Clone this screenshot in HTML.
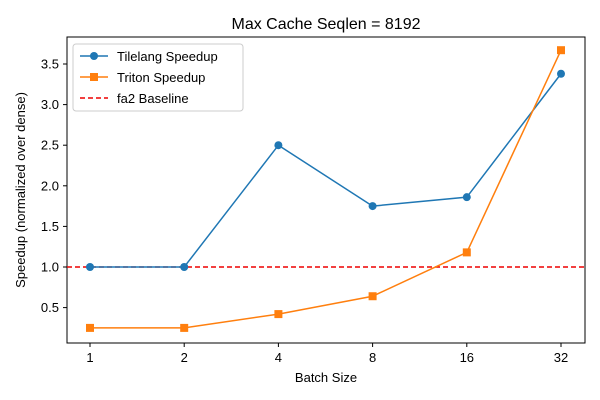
<!DOCTYPE html>
<html><head><meta charset="utf-8"><style>
body{margin:0;background:#fff;}
svg{display:block;font-family:"Liberation Sans","DejaVu Sans",sans-serif;}
</style></head><body>
<svg id="chart" width="600" height="400" viewBox="0 0 600 400" xmlns="http://www.w3.org/2000/svg">
<rect width="600" height="400" fill="#fff"/>
<text x="326" y="29" font-size="16" text-anchor="middle" fill="#000">Max Cache Seqlen = 8192</text>
<g id="grid"></g>
<rect x="67" y="37" width="518" height="306" fill="none" stroke="#000" stroke-width="1"/>
<text x="326" y="382" font-size="13" text-anchor="middle">Batch Size</text>
<text transform="translate(25,190) rotate(-90)" font-size="13" text-anchor="middle">Speedup (normalized over dense)</text>
<g id="legend">
<rect x="73" y="44" width="170" height="67" fill="#fff" stroke="#ccc" rx="3"/>
<g>
<line x1="80" y1="56" x2="108" y2="56" stroke="#1f77b4" stroke-width="1.5"/><circle cx="94" cy="56" r="4" fill="#1f77b4"/>
<text x="117" y="61" font-size="13">Tilelang Speedup</text></g>
<g>
<line x1="80" y1="77" x2="108" y2="77" stroke="#ff7f0e" stroke-width="1.5"/><rect x="90" y="73" width="8" height="8" fill="#ff7f0e"/>
<text x="117" y="82" font-size="13">Triton Speedup</text></g>
<g>
<line x1="80" y1="98" x2="108" y2="98" stroke="#e00" stroke-width="1.5" stroke-dasharray="5,3"/>
<text x="117" y="103" font-size="13">fa2 Baseline</text></g>
</g>
</svg>
<script>
const categories = ["1","2","4","8","16","32"];
const tilelang = [1.0, 1.0, 2.5, 1.75, 1.86, 3.38];
const triton = [0.25, 0.25, 0.42, 0.64, 1.18, 3.67];
const baseline = 1.0;
const yTicks = [0.5, 1.0, 1.5, 2.0, 2.5, 3.0, 3.5];
const yLabels = ["0.5","1.0","1.5","2.0","2.5","3.0","3.5"];

const NS = "http://www.w3.org/2000/svg";
const svg = document.getElementById("chart");
const legend = document.getElementById("legend");
function xs(i){return 90 + i*94.2;}
function ys(v){return 267 - (v-1)*81.2;}
function mk(tag, attrs, parent){
  const e=document.createElementNS(NS,tag);
  for(const k in attrs) e.setAttribute(k,attrs[k]);
  (parent||svg).insertBefore(e, legend);
  return e;
}
// ticks
yTicks.forEach((t,i)=>{
  const y=ys(t);
  const l=mk("line",{x1:63,x2:67,y1:y,y2:y,stroke:"#000"});
  
  
  const tx=mk("text",{x:59,y:y+4.5,"font-size":13,"text-anchor":"end"});
  tx.textContent=yLabels[i];
  
  
});
categories.forEach((c,i)=>{
  const x=xs(i);
  const l=mk("line",{x1:x,x2:x,y1:343,y2:347,stroke:"#000"});
  
  
  const tx=mk("text",{x:x,y:362,"font-size":13,"text-anchor":"middle"});
  tx.textContent=c;
  
  
});
// baseline
const bl=mk("line",{x1:67,x2:585,y1:ys(baseline),y2:ys(baseline),stroke:"#e00","stroke-width":1.5,"stroke-dasharray":"5,3"});


// series
function series(vals,color,name,square){
  const pts=vals.map((v,i)=>xs(i)+","+ys(v)).join(" ");
  const pl=mk("polyline",{points:pts,fill:"none",stroke:color,"stroke-width":1.5});
  
  
  vals.forEach((v,i)=>{
    let m;
    if(square) m=mk("rect",{x:xs(i)-4,y:ys(v)-4,width:8,height:8,fill:color});
    else m=mk("circle",{cx:xs(i),cy:ys(v),r:4,fill:color});
    
    
  });
}
series(tilelang,"#1f77b4","tilelang",false);
series(triton,"#ff7f0e","triton",true);
</script>
</body></html>
